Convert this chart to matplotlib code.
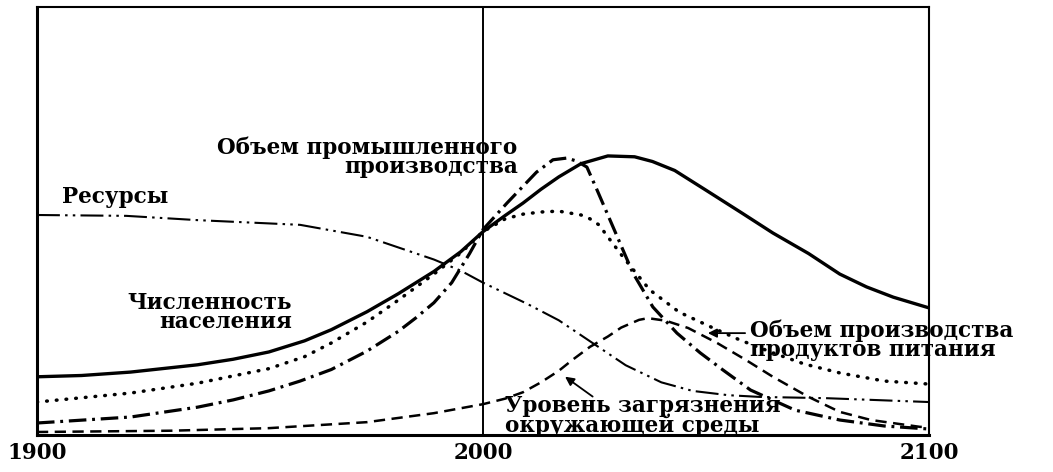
import numpy as np
import matplotlib
matplotlib.use('Agg')
import matplotlib.pyplot as plt

# all values on a 0..100 scale
pop_years = [1900, 1910, 1921, 1936, 1944, 1952, 1960, 1966, 1974, 1981, 1989, 1995, 2000,
             2005, 2009, 2013, 2017, 2022, 2028, 2034, 2038, 2043, 2050, 2058, 2065,
             2073, 2080, 2086, 2092, 2100]
population = [13.6, 13.9, 14.7, 16.4, 17.7, 19.4, 22.0, 24.6, 28.8, 33.0, 38.2, 42.8, 47.5,
              51.3, 54.2, 57.4, 60.3, 63.4, 65.2, 65.0, 63.9, 61.8, 57.2, 51.9, 47.2,
              42.4, 37.6, 34.6, 32.2, 29.7]

food_years = [1900, 1921, 1936, 1952, 1960, 1966, 1974, 1981, 1989, 1995, 2000, 2005, 2009,
              2013, 2017, 2022, 2024, 2026, 2028.5, 2031.4, 2034.5, 2037.4, 2044, 2051.6,
              2057.6, 2065, 2072, 2080, 2090, 2100]
food = [7.7, 9.8, 12.1, 15.5, 18.3, 21.5, 26.4, 31.5, 37.6, 42.5, 47.5, 50.5, 51.6,
        52.1, 52.3, 51.4, 50.5, 49.1, 45.6, 41.6, 37.6, 33.9, 28.7, 25.0,
        22.2, 19.2, 16.6, 14.5, 12.6, 11.9]

ind_years = [1900, 1921, 1936, 1944, 1952, 1959, 1966, 1974, 1981, 1985, 1989, 1993, 1997,
             2000, 2005.4, 2012, 2015.7, 2018.8, 2021, 2023.3, 2025.6, 2027.8, 2030.7,
             2033.6, 2038.1, 2043.5, 2048.7, 2053.8, 2060, 2070, 2080, 2090, 2100]
industry = [2.8, 4.2, 6.5, 8.2, 10.3, 12.6, 15.3, 19.6, 24.2, 27.4, 30.9, 35.6, 42.4,
            48.0, 54.2, 61.4, 64.3, 64.7, 64.0, 62.6, 57.2, 51.9, 44.9,
            37.9, 29.9, 23.8, 19.2, 15.2, 10.5, 5.8, 3.5, 2.1, 1.4]

pol_years = [1900, 1930, 1952, 1974, 1989, 2000, 2005, 2009, 2013, 2017, 2020, 2024, 2028,
             2031, 2035, 2037, 2041, 2046, 2052.5, 2059, 2065, 2073, 2080, 2087, 2098, 2100]
pollution = [0.7, 1.0, 1.6, 3.0, 5.1, 7.2, 8.5, 10.0, 12.3, 15.0, 17.5, 20.6, 23.0,
             25.1, 26.9, 27.3, 26.7, 25.0, 21.5, 17.5, 13.6, 8.9, 5.4, 3.5, 1.9, 1.9]

res_years = [1900, 1920, 1936, 1959, 1974, 1989, 1995, 2000, 2004, 2010, 2017, 2025, 2032,
             2040, 2047, 2055, 2062, 2077, 2100]
resources = [51.4, 51.2, 50.2, 49.1, 46.3, 41.0, 38.4, 35.6, 33.6, 30.6, 26.8, 21.2, 16.3,
             12.3, 10.3, 9.3, 8.9, 8.6, 7.7]

tick_years = [1900, 2000, 2100]

FONT = 'DejaVu Serif'

fig = plt.figure(figsize=(10.53, 4.72), dpi=100)
ax = fig.add_axes([0.0351, 0.0784, 0.8471, 0.9068])

ax.plot(pop_years, population, color='black', lw=2.4, ls='-', solid_joinstyle='round')
ax.plot(food_years, food, color='black', lw=2.5, ls=(0, (0.2, 2.6)),
        dash_capstyle='round', dash_joinstyle='round')
ax.plot(ind_years, industry, color='black', lw=2.3, ls=(0, (5.5, 1.8, 0.9, 1.8)))
ax.plot(pol_years, pollution, color='black', lw=1.8, ls=(0, (4.5, 2.6)))
ax.plot(res_years, resources, color='black', lw=1.5, ls=(0, (11, 2.5, 1.2, 2.5, 1.2, 2.5)))

ax.axvline(2000, color='black', lw=1.4)

ax.set_xlim(1900, 2100)
ax.set_ylim(0, 100)
ax.set_xticks(tick_years)
ax.set_xticklabels([str(t) for t in tick_years], family=FONT, fontweight='bold', fontsize=15.5)
ax.tick_params(axis='x', length=0, pad=5)
ax.set_yticks([])
for side, w in zip(['left', 'right', 'top', 'bottom'], [2.2, 1.5, 1.5, 2.2]):
    ax.spines[side].set_linewidth(w)

txt = dict(family=FONT, fontweight='bold', fontsize=15.5, color='black', linespacing=0.82)

ax.text(2007.8, 65.0, 'Объем промышленного\nпроизводства', ha='right', va='center', **txt)
ax.text(1905.6, 55.6, 'Ресурсы', ha='left', va='center', **txt)
ax.text(1957.2, 28.7, 'Численность\nнаселения', ha='right', va='center', **txt)
ax.text(2059.9, 22.2, 'Объем производства\nпродуктов питания', ha='left', va='center', **txt)
ax.text(2004.9, 4.4, 'Уровень загрязнения\nокружающей среды', ha='left', va='center', **txt)

arrow = dict(arrowstyle='-|>', color='black', lw=1.3, mutation_scale=13)
ax.annotate('', xy=(2049.8, 23.8), xytext=(2059.4, 23.8), arrowprops=arrow)
ax.annotate('', xy=(2017.9, 14.0), xytext=(2025.1, 8.6), arrowprops=arrow)

fig.savefig('out.png', dpi=100, facecolor='white')
